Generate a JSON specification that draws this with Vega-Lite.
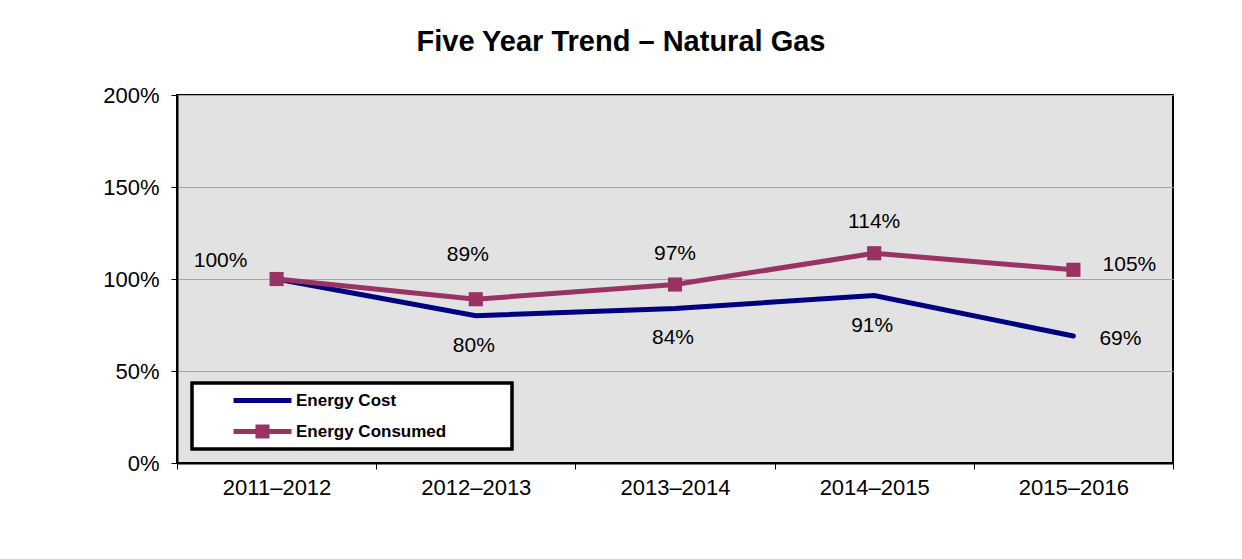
{
  "$schema": "https://vega.github.io/schema/vega-lite/v6.json",
  "width": 996,
  "height": 368,
  "autosize": {"type": "none"},
  "padding": {"left": 177, "top": 95, "right": 69, "bottom": 96},
  "background": "white",
  "title": {
    "text": "Five Year Trend – Natural Gas",
    "anchor": "middle",
    "frame": "group",
    "dx": -54,
    "offset": 4,
    "baseline": "alphabetic",
    "font": "Liberation Sans",
    "fontSize": 29,
    "fontWeight": "bold",
    "color": "black"
  },
  "config": {
    "view": {"fill": "#E2E2E2", "stroke": "black", "strokeWidth": 2},
    "axis": {
      "labelFont": "Liberation Sans",
      "labelFontSize": 22,
      "labelColor": "black",
      "tickColor": "black",
      "domainColor": "black",
      "domainWidth": 2,
      "tickSize": 6,
      "title": null
    },
    "text": {"font": "Liberation Sans", "fontSize": 21, "color": "black", "align": "center", "baseline": "middle"}
  },
  "data": {
    "values": [
      {"year": "2011–2012", "series": "Energy Cost", "value": 100},
      {"year": "2012–2013", "series": "Energy Cost", "value": 80},
      {"year": "2013–2014", "series": "Energy Cost", "value": 84},
      {"year": "2014–2015", "series": "Energy Cost", "value": 91},
      {"year": "2015–2016", "series": "Energy Cost", "value": 69},
      {"year": "2011–2012", "series": "Energy Consumed", "value": 100},
      {"year": "2012–2013", "series": "Energy Consumed", "value": 89},
      {"year": "2013–2014", "series": "Energy Consumed", "value": 97},
      {"year": "2014–2015", "series": "Energy Consumed", "value": 114},
      {"year": "2015–2016", "series": "Energy Consumed", "value": 105}
    ]
  },
  "encoding": {
    "x": {
      "field": "year",
      "type": "nominal",
      "sort": null,
      "scale": {"type": "band", "paddingInner": 0, "paddingOuter": 0},
      "axis": {"labelAngle": 0, "tickBand": "extent", "labelPadding": 8, "grid": false}
    },
    "y": {
      "field": "value",
      "type": "quantitative",
      "scale": {"domain": [0, 200]},
      "axis": {
        "values": [0, 50, 100, 150, 200],
        "labelExpr": "datum.value + '%'",
        "labelPadding": 12,
        "grid": true,
        "gridColor": "#A6A6A6",
        "gridWidth": 1
      }
    }
  },
  "layer": [
    {
      "mark": {"type": "line", "strokeWidth": 5, "strokeCap": "round", "strokeJoin": "miter"},
      "encoding": {
        "color": {
          "field": "series",
          "type": "nominal",
          "scale": {"domain": ["Energy Cost", "Energy Consumed"], "range": ["#000080", "#993366"]},
          "legend": {
            "orient": "none",
            "legendX": 15,
            "legendY": 288,
            "title": null,
            "direction": "vertical",
            "strokeColor": "black",
            "fillColor": "white",
            "padding": 9,
            "rowPadding": 13,
            "labelFont": "Liberation Sans",
            "labelFontSize": 17,
            "labelFontWeight": "bold",
            "labelColor": "black",
            "labelLimit": 400,
            "symbolType": "M-4,-0.345H4V0.345H-4Z",
            "symbolSize": 210,
            "symbolOffset": 53,
            "labelOffset": 25,
            "labelExpr": "datum.label + '\u00a0\u00a0\u00a0\u00a0\u00a0\u00a0\u00a0\u00a0\u00a0\u00a0\u00a0\u00a0\u200b'",
            "encode": {
              "legend": {"update": {"strokeWidth": {"value": 3.5}}},
              "symbols": {
                "update": {
                  "shape": [
                    {"test": "datum.value === 'Energy Consumed'", "value": "M-4,-0.345H-0.97V-0.97H0.97V-0.345H4V0.345H0.97V0.97H-0.97V0.345H-4Z"},
                    {"value": "M-4,-0.345H4V0.345H-4Z"}
                  ],
                  "fill": {"scale": "color", "field": "value"},
                  "fillOpacity": {"value": 1},
                  "strokeWidth": {"value": 0}
                }
              }
            }
          }
        }
      }
    },
    {
      "transform": [{"filter": "datum.series === 'Energy Consumed'"}],
      "mark": {"type": "square", "size": 200, "filled": true, "opacity": 1, "color": "#993366"}
    },
    {
      "transform": [
        {"filter": "datum.series === 'Energy Consumed' && datum.year === '2011–2012'"},
        {"calculate": "datum.value + '%'", "as": "label"}
      ],
      "mark": {"type": "text", "dx": -56, "dy": -18},
      "encoding": {"text": {"field": "label", "type": "nominal"}}
    },
    {
      "transform": [
        {"filter": "datum.series === 'Energy Consumed' && datum.year === '2012–2013'"},
        {"calculate": "datum.value + '%'", "as": "label"}
      ],
      "mark": {"type": "text", "dx": -8, "dy": -44},
      "encoding": {"text": {"field": "label", "type": "nominal"}}
    },
    {
      "transform": [
        {"filter": "datum.series === 'Energy Consumed' && (datum.year === '2013–2014' || datum.year === '2014–2015')"},
        {"calculate": "datum.value + '%'", "as": "label"}
      ],
      "mark": {"type": "text", "dx": 0, "dy": -31},
      "encoding": {"text": {"field": "label", "type": "nominal"}}
    },
    {
      "transform": [
        {"filter": "datum.series === 'Energy Consumed' && datum.year === '2015–2016'"},
        {"calculate": "datum.value + '%'", "as": "label"}
      ],
      "mark": {"type": "text", "dx": 56, "dy": -5},
      "encoding": {"text": {"field": "label", "type": "nominal"}}
    },
    {
      "transform": [
        {"filter": "datum.series === 'Energy Cost' && datum.year !== '2011–2012' && datum.year !== '2015–2016'"},
        {"calculate": "datum.value + '%'", "as": "label"}
      ],
      "mark": {"type": "text", "dx": -2, "dy": 30},
      "encoding": {"text": {"field": "label", "type": "nominal"}}
    },
    {
      "transform": [
        {"filter": "datum.series === 'Energy Cost' && datum.year === '2015–2016'"},
        {"calculate": "datum.value + '%'", "as": "label"}
      ],
      "mark": {"type": "text", "dx": 47, "dy": 3},
      "encoding": {"text": {"field": "label", "type": "nominal"}}
    }
  ]
}
